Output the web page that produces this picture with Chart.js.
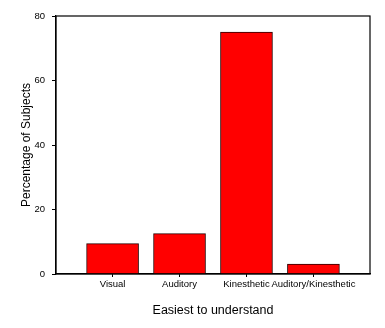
<!DOCTYPE html>
<html>
<head>
<meta charset="utf-8">
<script src="https://cdn.jsdelivr.net/npm/chart.js@4/dist/chart.umd.min.js"></script>
<style>
  html, body { margin: 0; padding: 0; background: #fff; }
  canvas { display: block; }
</style>
</head>
<body>
<canvas id="c" width="385" height="328"></canvas>
<script>
// Learning-style preference: share of subjects per category
const categories = ['Visual', 'Auditory', 'Kinesthetic', 'Auditory/Kinesthetic'];
const percentages = [9.4, 12.5, 75.0, 3.1];
const yTicks = [0, 20, 40, 60, 80];

const FONT = '"Liberation Sans", Arial, sans-serif';

// Closed frame around the plotting area (top and right edges)
const framePlugin = {
  id: 'frame',
  afterDraw(chart) {
    const { ctx, chartArea: a } = chart;
    ctx.save();
    ctx.strokeStyle = '#000';
    ctx.lineWidth = 1.2;
    ctx.strokeRect(a.left, a.top, a.right - a.left, a.bottom - a.top);
    ctx.restore();
  }
};

new Chart(document.getElementById('c'), {
  type: 'bar',
  data: {
    datasets: [{
      data: percentages.map((v, i) => ({ x: i + 1, y: v })),
      backgroundColor: '#ff0000',
      borderColor: '#2a0000',
      borderWidth: 1,
      barThickness: 52
    }]
  },
  options: {
    responsive: false,
    devicePixelRatio: 1,
    animation: false,
    layout: { padding: { top: 16, right: 15, left: 0, bottom: 0 } },
    plugins: { legend: { display: false }, tooltip: { enabled: false } },
    scales: {
      x: {
        type: 'linear',
        offset: false,
        min: 0.155,
        max: 4.845,
        afterBuildTicks(scale) {
          scale.ticks = categories.map((c, i) => ({ value: i + 1 }));
        },
        afterFit(scale) { scale.height = 54; },
        grid: { offset: false, drawOnChartArea: false, drawTicks: true, tickLength: 3, color: '#000' },
        border: { display: true, color: '#000', width: 1.2 },
        ticks: {
          autoSkip: false,
          maxRotation: 0,
          padding: 2,
          color: '#000',
          font: { family: FONT, size: 9.5 },
          callback: (v) => categories[v - 1] || ''
        },
        title: {
          display: true,
          text: 'Easiest to understand',
          color: '#000',
          font: { family: FONT, size: 12.5 },
          padding: { top: 0, bottom: 9.5 }
        }
      },
      y: {
        min: 0,
        max: 80,
        afterBuildTicks(scale) {
          scale.ticks = yTicks.map(v => ({ value: v }));
        },
        afterFit(scale) { scale.width = 56; },
        grid: { drawOnChartArea: false, drawTicks: true, tickLength: 4, color: '#000' },
        border: { display: true, color: '#000', width: 1.2 },
        ticks: {
          padding: 7,
          color: '#000',
          font: { family: FONT, size: 9.5 }
        },
        title: {
          display: true,
          text: 'Percentage of Subjects',
          color: '#000',
          font: { family: FONT, size: 12 },
          padding: { top: 19, bottom: 0 }
        }
      }
    }
  },
  plugins: [framePlugin]
});
</script>
</body>
</html>
